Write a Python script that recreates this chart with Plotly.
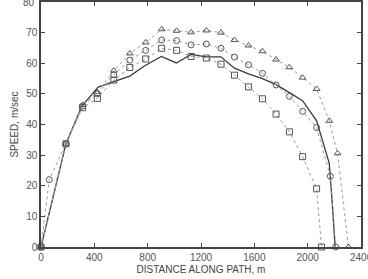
import plotly.graph_objects as go

# Data (distance along path in m, speed in m/sec)
tri_x = [0, 187, 312, 423, 546, 666, 785, 905, 1017, 1126, 1240, 1350, 1451, 1556, 1661, 1763, 1863, 1962, 2067, 2162, 2224, 2306]
tri_y = [0, 33.7, 46.4, 50.6, 57.6, 63.2, 66.8, 71.1, 70.6, 70.1, 70.7, 70.0, 67.6, 65.8, 63.9, 61.2, 58.7, 55.3, 51.6, 41.2, 30.6, 0]

cir_x = [0, 62, 187, 312, 423, 546, 666, 785, 905, 1017, 1126, 1240, 1350, 1451, 1556, 1661, 1763, 1863, 1962, 2067, 2170, 2210]
cir_y = [0, 22.0, 33.7, 46.0, 50.0, 56.2, 61.0, 64.2, 67.6, 67.4, 66.0, 66.3, 64.9, 62.0, 59.5, 56.7, 52.9, 49.2, 44.3, 39.0, 23.1, 0]

sq_x = [0, 187, 312, 423, 546, 666, 785, 905, 1017, 1126, 1240, 1350, 1451, 1556, 1661, 1763, 1863, 1962, 2067, 2104]
sq_y = [0, 33.7, 45.5, 48.5, 54.5, 58.6, 61.4, 64.9, 64.2, 62.2, 61.7, 59.7, 56.1, 52.3, 48.4, 43.4, 37.6, 29.5, 19.0, 0]

sol_x = [0, 187, 307, 429, 541, 666, 778, 903, 1015, 1126, 1240, 1349, 1451, 1556, 1661, 1763, 1863, 1962, 2067, 2162, 2185, 2206]
sol_y = [0, 33.7, 46.0, 52.2, 53.9, 55.8, 59.2, 62.2, 60.1, 62.9, 62.1, 62.1, 58.4, 56.5, 55.0, 53.0, 50.4, 47.8, 41.2, 27.3, 14.0, 0]

x_ticks = [0, 400, 800, 1200, 1600, 2000, 2400]
y_ticks = [0, 10, 20, 30, 40, 50, 60, 70, 80]

FONT = "Liberation Sans Narrow, Liberation Sans, Arial, sans-serif"
MARK = "#555555"
DOT = "#9a9a9a"
LABEL = "#555555"

fig = go.Figure()
fig.add_trace(go.Scatter(x=sol_x, y=sol_y, mode="lines",
                         line=dict(color="#3a3a3a", width=1.3), showlegend=False))
for xs, ys, sym in [(tri_x, tri_y, "triangle-up-open"),
                    (cir_x, cir_y, "circle-open"),
                    (sq_x, sq_y, "square-open")]:
    fig.add_trace(go.Scatter(x=xs, y=ys, mode="lines+markers",
                             line=dict(color=DOT, width=1, dash="dot"),
                             marker=dict(symbol=sym, size=6, color=MARK,
                                         line=dict(color=MARK, width=1)),
                             showlegend=False, cliponaxis=False))

axis_common = dict(showgrid=False, zeroline=False, showline=True, linecolor="#444444",
                   linewidth=1.5, mirror="ticks", ticks="inside", ticklen=4,
                   tickcolor="#444444", tickwidth=1,
                   tickfont=dict(family=FONT, size=10, color=LABEL))

# end tick labels that fall on the page edge (drawn as text so they are clipped like the reference)
annotations = [
    dict(x=0, xref="paper", y=y_ticks[-1], yref="y", text=str(y_ticks[-1]),
         xanchor="right", yanchor="middle", xshift=-4, showarrow=False,
         font=dict(family=FONT, size=10, color=LABEL)),
    dict(x=x_ticks[-1], xref="x", y=0, yref="paper", text=str(x_ticks[-1]),
         xanchor="center", yanchor="top", yshift=-3, showarrow=False,
         font=dict(family=FONT, size=10, color=LABEL)),
]

fig.update_layout(
    width=368, height=279,
    margin=dict(l=41, r=7, t=0, b=32),
    plot_bgcolor="white", paper_bgcolor="white",
    annotations=annotations,
    xaxis=dict(range=[0, 2400], tickvals=x_ticks[:-1], ticktext=[str(v) for v in x_ticks[:-1]],
               title=dict(text="DISTANCE ALONG PATH, m", standoff=4,
                          font=dict(family=FONT, size=10, color="#444444")),
               **axis_common),
    yaxis=dict(range=[0, 80], tickvals=y_ticks[:-1], ticktext=[str(v) for v in y_ticks[:-1]],
               title=dict(text="SPEED, m/sec", standoff=6,
                          font=dict(family=FONT, size=10, color="#444444")),
               **axis_common),
)

fig.write_html("out.html")
